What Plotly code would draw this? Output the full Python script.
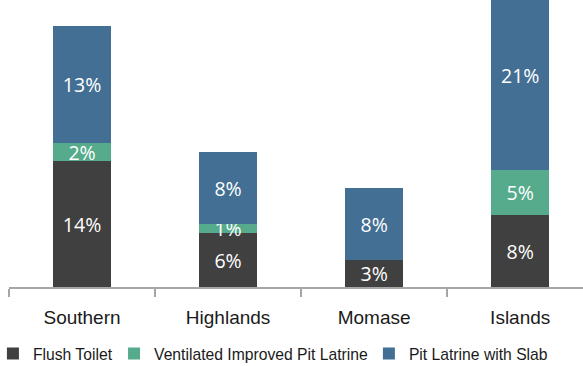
import plotly.graph_objects as go

# Access to sanitation facilities by region (percent of households)
regions = ["Southern", "Highlands", "Momase", "Islands"]
flush_toilet = [14, 6, 3, 8]
vip_latrine = [2, 1, 0, 5]
pit_slab = [13, 8, 8, 21]

series = [
    ("Flush Toilet", flush_toilet, "#404040", "legend"),
    ("Ventilated Improved Pit Latrine", vip_latrine, "#56ab8c", "legend2"),
    ("Pit Latrine with Slab", pit_slab, "#436f94", "legend3"),
]

label_font = "Liberation Sans, Arial, sans-serif"

fig = go.Figure()
for name, vals, color, leg in series:
    fig.add_trace(go.Bar(
        name=name,
        x=regions,
        y=vals,
        legend=leg,
        marker=dict(color=color, line=dict(width=0)),
        text=[f"{v}%" if v else "" for v in vals],
        textposition="inside",
        insidetextanchor="middle",
        constraintext="none",
        textfont=dict(family="Open Sans, sans-serif", size=19.5, color="white"),
        width=0.40,
        hoverinfo="skip",
    ))

# one legend per series so each entry sits at its own spot along the bottom
legend_style = dict(
    orientation="h",
    xanchor="left",
    y=-0.233, yanchor="middle",
    font=dict(family=label_font, size=15.7, color="#1a1a1a"),
    itemclick=False,
    borderwidth=0,
    bgcolor="rgba(0,0,0,0)",
)

fig.update_layout(
    barmode="stack",
    width=583,
    height=366,
    margin=dict(l=9, r=0, t=0, b=79, autoexpand=False),
    paper_bgcolor="white",
    plot_bgcolor="white",
    showlegend=True,
    legend=dict(x=-0.028, **legend_style),
    legend2=dict(x=0.183, **legend_style),
    legend3=dict(x=0.627, **legend_style),
    xaxis=dict(
        range=[-0.5, 3.43],
        showline=True,
        linecolor="#a6a6a6",
        linewidth=1.5,
        ticks="outside",
        tickson="boundaries",
        ticklen=8,
        tickcolor="#a6a6a6",
        tickwidth=1.5,
        ticklabelstandoff=12,
        showgrid=False,
        tickfont=dict(family=label_font, size=19, color="#1a1a1a"),
    ),
    yaxis=dict(
        range=[0, 31.9],
        visible=False,
        showgrid=False,
    ),
)

fig.write_html("out.html")
